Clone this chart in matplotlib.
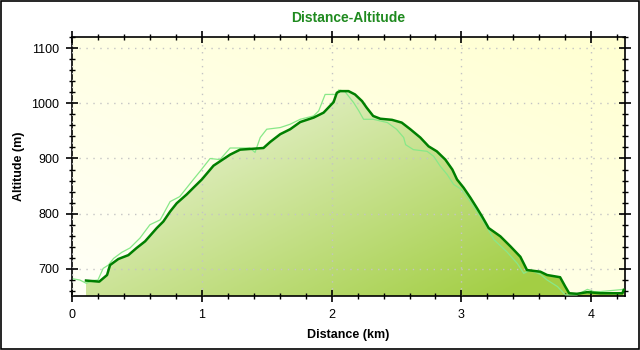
import numpy as np
import matplotlib
matplotlib.use("Agg")
import matplotlib.pyplot as plt
from matplotlib.patches import Polygon, Rectangle
from matplotlib.ticker import MultipleLocator

# ---- data ----
dist_track = [0.108, 0.21, 0.27, 0.293, 0.357, 0.434, 0.498, 0.563, 0.653, 0.704, 0.756, 0.807,
              0.884, 0.935, 1.0, 1.09, 1.218, 1.295, 1.475, 1.527, 1.604, 1.681, 1.758, 1.861,
              1.938, 2.015, 2.04, 2.066, 2.13, 2.18, 2.234, 2.27, 2.32, 2.375, 2.465, 2.54,
              2.606, 2.683, 2.747, 2.81, 2.876, 2.93, 2.966, 3.017, 3.069, 3.12, 3.159, 3.21,
              3.3, 3.377, 3.454, 3.505, 3.608, 3.66, 3.76, 3.80, 3.83, 3.89, 3.97, 4.07, 4.24, 4.25]
alt_track = [679, 677, 689, 707, 718, 725, 738, 750, 774, 786, 804, 819,
             835, 847, 862, 887, 907, 916, 919, 930, 944, 953, 966, 974,
             983, 1002, 1019, 1022, 1022, 1016, 1004, 992, 977, 972, 970, 965,
             953, 938, 922, 913, 898, 880, 862, 847, 829, 810, 795, 774,
             759, 741, 722, 698, 695, 689, 685, 668, 656, 655, 658, 656, 656, 662]

dist_raw = [0.01, 0.06, 0.11, 0.16, 0.2, 0.24, 0.28, 0.32, 0.383, 0.447, 0.524, 0.6, 0.68,
            0.756, 0.83, 0.935, 0.987, 1.064, 1.14, 1.218, 1.295, 1.37, 1.41, 1.45, 1.5,
            1.604, 1.68, 1.758, 1.86, 1.9, 1.95, 2.04, 2.053, 2.1, 2.17, 2.21, 2.246, 2.32,
            2.43, 2.5, 2.555, 2.57, 2.63, 2.735, 2.786, 2.837, 2.89, 2.94, 3.0, 3.04, 3.094,
            3.146, 3.2, 3.25, 3.35, 3.43, 3.48, 3.53, 3.61, 3.66, 3.74, 3.80, 3.89, 3.97,
            4.02, 4.07, 4.25]
alt_raw = [682, 680, 674, 679, 680, 701, 707, 719, 730, 738, 756, 780, 789,
           822, 831, 862, 877, 900, 898, 919, 919, 919, 911, 938, 953,
           956, 962, 971, 977, 986, 1016, 1016, 1024, 1022, 1001, 986, 971, 971,
           965, 953, 938, 925, 916, 913, 904, 886, 871, 853, 844, 831, 813,
           795, 774, 753, 731, 710, 692, 698, 690, 680, 668, 653, 653, 663,
           659, 659, 663]

title = "Distance-Altitude"
xlabel = "Distance (km)"
ylabel = "Altitude (m)"
XMIN, XMAX = 0, 4.26
YMIN, YMAX = 651, 1120

plt.rcParams['font.family'] = ['Liberation Sans', 'DejaVu Sans']

fig = plt.figure(figsize=(6.4, 3.5), dpi=100)
fig.patch.set_facecolor('white')
fig.add_artist(Rectangle((0.0008, 0.0015), 0.9984, 0.997, transform=fig.transFigure,
                         fill=False, edgecolor='black', linewidth=1.2))

ax = fig.add_axes([72/640, 1-296/350, (625-72)/640, (296-37)/350])
ax.set_xlim(XMIN, XMAX)
ax.set_ylim(YMIN, YMAX)

# background gradient (pale yellow, more saturated at top-right)
n = 200
gx, gy = np.meshgrid(np.linspace(0, 1, n), np.linspace(0, 1, n))
t = np.clip((gx + gy) / 2, 0, 1)
c0 = np.array([1.0, 1.0, 0.97])
c1 = np.array([1.0, 1.0, 0.82])
bg = c0[None, None, :] * (1 - t[..., None]) + c1[None, None, :] * t[..., None]
ax.imshow(bg, extent=[XMIN, XMAX, YMIN, YMAX], origin='lower', aspect='auto', zorder=0)

# fill gradient under track, over the bounding box of the filled area
fx0, fx1 = min(dist_track), max(dist_track)
fy0, fy1 = YMIN, max(alt_track)
t2 = np.clip(0.65 * gx + 0.5 * (1 - gy), 0, 1)
f0 = np.array([0.96, 0.975, 0.92])
f1 = np.array([0.64, 0.81, 0.27])
fg = f0[None, None, :] * (1 - t2[..., None]) + f1[None, None, :] * t2[..., None]
im = ax.imshow(fg, extent=[fx0, fx1, fy0, fy1], origin='lower', aspect='auto', zorder=1)
verts = [(dist_track[0], YMIN)] + list(zip(dist_track, alt_track)) + [(dist_track[-1], YMIN)]
poly = Polygon(verts, closed=True, facecolor='none', edgecolor='none', transform=ax.transData)
ax.add_patch(poly)
im.set_clip_path(poly)

ax.plot(dist_raw, alt_raw, color='#88e888', linewidth=0.9, zorder=3)
ax.plot(dist_track, alt_track, color='#007f00', linewidth=1.8, zorder=4)

ax.grid(True, which='major', color='#c4c4c4', linestyle=(0, (1, 4)), linewidth=1.0, zorder=2)
ax.set_axisbelow(False)

ax.xaxis.set_major_locator(MultipleLocator(1))
ax.xaxis.set_minor_locator(MultipleLocator(0.2))
ax.yaxis.set_major_locator(MultipleLocator(100))
ax.yaxis.set_minor_locator(MultipleLocator(20))
ax.tick_params(which='major', direction='inout', length=8, width=1.2,
               top=True, right=True, labelsize=9, colors='black')
ax.tick_params(which='minor', direction='inout', length=5, width=1.0, top=True, right=True)
ax.tick_params(axis='x', which='major', pad=5)
ax.tick_params(axis='y', which='major', pad=5)
for s in ax.spines.values():
    s.set_linewidth(1.2)
    s.set_color('black')

ax.set_title(title, color='#1f8a1f', fontsize=10, fontweight='bold', pad=11)
ax.set_xlabel(xlabel, fontsize=9, fontweight='bold', labelpad=6)
ax.set_ylabel(ylabel, fontsize=9, fontweight='bold', labelpad=5)

fig.savefig('out.png', dpi=100)
